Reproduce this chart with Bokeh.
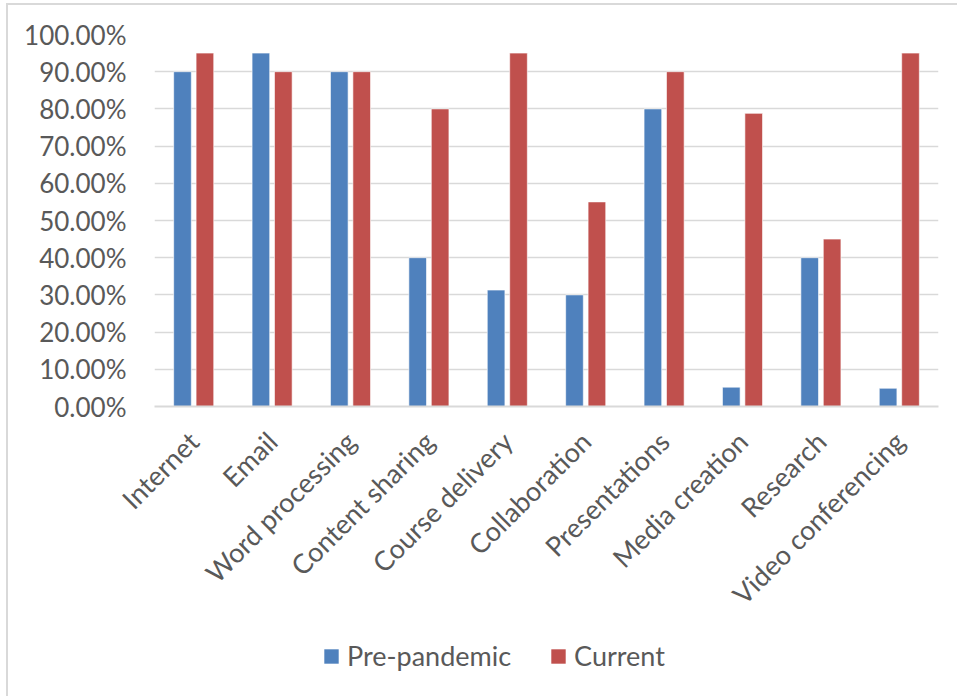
import math

from bokeh.embed import file_html
from bokeh.layouts import column
from bokeh.models import (ColumnDataSource, FactorRange, Legend, LegendItem,
                          NumeralTickFormatter, Range1d, FixedTicker)
from bokeh.plotting import figure
from bokeh.resources import INLINE
from bokeh.transform import dodge

# Technology use in teaching, before the pandemic and now
categories = ["Internet", "Email", "Word processing", "Content sharing",
              "Course delivery", "Collaboration", "Presentations",
              "Media creation", "Research", "Video conferencing"]
pre_pandemic = [0.90, 0.95, 0.90, 0.40, 0.313, 0.30, 0.80, 0.052, 0.40, 0.049]
current = [0.95, 0.90, 0.90, 0.80, 0.95, 0.55, 0.90, 0.788, 0.45, 0.95]
series_names = ["Pre-pandemic", "Current"]
y_ticks = [0.0, 0.1, 0.2, 0.3, 0.4, 0.5, 0.6, 0.7, 0.8, 0.9, 1.0]

BLUE = "#4F81BD"
RED = "#C0504D"
TEXT = "#595959"
GRID = "#D9D9D9"
FONT = "Lato"

source = ColumnDataSource(dict(cat=categories, pre=pre_pandemic, cur=current))

# Main bar chart
p = figure(
    x_range=FactorRange(factors=categories, range_padding=0),
    y_range=Range1d(0, 1.0),
    frame_width=784, frame_height=372,
    min_border_left=146, min_border_right=19,
    min_border_top=29, min_border_bottom=229,
    output_backend="svg", toolbar_location=None,
)

bar_w = 0.225
p.vbar(x=dodge("cat", -0.143, range=p.x_range), top="pre", width=bar_w,
       source=source, fill_color=BLUE, line_color="white", line_width=0.6)
p.vbar(x=dodge("cat", 0.143, range=p.x_range), top="cur", width=bar_w,
       source=source, fill_color=RED, line_color="white", line_width=0.6)

p.yaxis.ticker = FixedTicker(ticks=y_ticks)
p.yaxis.formatter = NumeralTickFormatter(format="0.00%")
p.yaxis.axis_line_color = None
p.yaxis.major_tick_line_color = None
p.yaxis.minor_tick_line_color = None
p.yaxis.major_label_standoff = 22
p.yaxis.major_label_text_font = FONT
p.yaxis.major_label_text_font_size = "26px"
p.yaxis.major_label_text_color = TEXT

p.xaxis.axis_line_color = GRID
p.xaxis.axis_line_width = 2
p.xaxis.major_tick_line_color = None
p.xaxis.minor_tick_line_color = None
p.xaxis.major_label_orientation = math.pi / 4
p.xaxis.major_label_standoff = 24
p.xaxis.major_label_text_font = FONT
p.xaxis.major_label_text_font_size = "27px"
p.xaxis.major_label_text_color = TEXT

p.xgrid.grid_line_color = None
p.ygrid.grid_line_color = GRID
p.ygrid.grid_line_width = 1.5
p.outline_line_color = None

# Legend strip underneath the chart (its keys are swatch-only renderers)
lg = figure(
    width=949, height=61,
    x_range=Range1d(0, 1), y_range=Range1d(0, 1),
    x_axis_type=None, y_axis_type=None,
    min_border=0, output_backend="svg", toolbar_location=None,
)
lg.grid.visible = False
lg.outline_line_color = None
nan = float("nan")
k_pre = lg.vbar(x=[nan], top=[nan], width=0.1, fill_color=BLUE, line_color=None)
k_cur = lg.vbar(x=[nan], top=[nan], width=0.1, fill_color=RED, line_color=None)

legend = Legend(
    items=[LegendItem(label=series_names[0], renderers=[k_pre]),
           LegendItem(label=series_names[1], renderers=[k_cur])],
    orientation="horizontal",
    location=(168, 24),
    padding=0, margin=0, spacing=38,
    glyph_width=18, glyph_height=18, label_standoff=7,
    label_text_font=FONT, label_text_font_size="27px",
    label_text_color=TEXT,
    border_line_color=None, background_fill_alpha=0,
)
lg.add_layout(legend, "center")

page = column(
    p, lg, spacing=0,
    styles={"margin-left": "6px", "margin-top": "3px",
            "border-left": "2px solid #D9D9D9",
            "border-top": "2px solid #D9D9D9"},
)

open("out.html", "w").write(file_html(page, INLINE))
